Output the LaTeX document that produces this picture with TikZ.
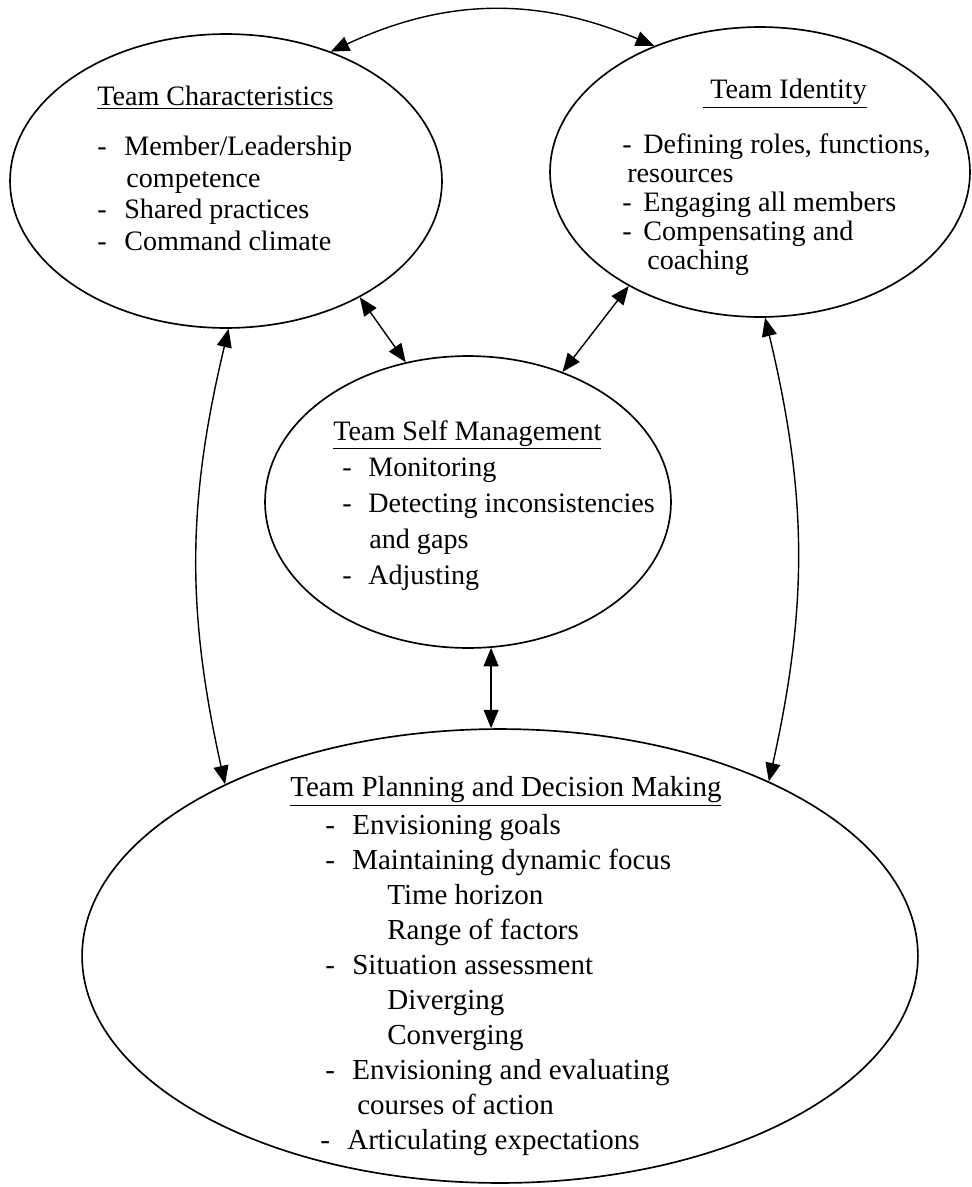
\documentclass[tikz,border=0pt]{standalone}
\usepackage{fontspec}
\setmainfont{Liberation Serif}
\usetikzlibrary{shapes.geometric,arrows.meta}
\tikzset{
BLOB/.style={draw=black,ellipse,line width=0.95pt,inner sep=0pt},
LINK/.style={draw=black,line width=0.8pt,>={Triangle[length=10.5pt,width=8.5pt]},<->},
LIST/.style={anchor=north west,inner sep=0pt,align=left},
}
\newcommand{\DSH}[1][0.54cm]{\makebox[#1][l]{-}}

\begin{document}
\begin{tikzpicture}[x=0.02cm,y=-0.02cm]
	\useasboundingbox (0,0) rectangle (971,1187);
	\node[BLOB,minimum width=8.64cm,minimum height=5.88cm] (tc) at (226,181) {};
	\node[BLOB,minimum width=8.4cm,minimum height=5.8cm] (ti) at (760,172) {};
	\node[BLOB,minimum width=8.12cm,minimum height=5.84cm] (tsm) at (468,502) {};
	\node[BLOB,minimum width=16.72cm,minimum height=9.08cm] (tpdm) at (500,956) {};
	%Texts
	\node[LIST,font=\fontsize{16pt}{0.63cm}\selectfont] (tctext) at (97,86)
		{\underline{Team Characteristics}\\[0.37cm]
		\DSH Member/Leadership\\
		\hspace*{0.58cm}competence\\
		\DSH Shared practices\\
		\DSH Command climate};
	\node[LIST,font=\fontsize{16pt}{0.58cm}\selectfont] (titext) at (622,79)
		{\hspace*{1.62cm}\underline{\hspace{0.14cm}Team Identity}\\[0.48cm]
		\DSH[0.42cm]Defining roles, functions,\\
		\hspace*{0.1cm}resources\\
		\DSH[0.42cm]Engaging all members\\
		\DSH[0.42cm]Compensating and\\
		\hspace*{0.5cm}coaching};
	\node[LIST,font=\fontsize{16pt}{0.72cm}\selectfont] (tsmtext) at (333,420)
		{\underline{Team Self Management}\\
		\hspace*{0.18cm}\DSH[0.52cm]Monitoring\\
		\hspace*{0.18cm}\DSH[0.52cm]Detecting inconsistencies\\
		\hspace*{0.72cm}and gaps\\
		\hspace*{0.18cm}\DSH[0.52cm]Adjusting};
	\node[LIST,font=\fontsize{16.5pt}{0.7cm}\selectfont] (tpdmtext) at (290,776)
		{\underline{Team Planning and Decision Making}\\[0.06cm]
		\hspace*{0.7cm}\DSH Envisioning goals\\
		\hspace*{0.7cm}\DSH Maintaining dynamic focus\\
		\hspace*{1.94cm}Time horizon\\
		\hspace*{1.94cm}Range of factors\\
		\hspace*{0.7cm}\DSH Situation assessment\\
		\hspace*{1.94cm}Diverging\\
		\hspace*{1.94cm}Converging\\
		\hspace*{0.7cm}\DSH Envisioning and evaluating\\
		\hspace*{1.34cm}courses of action\\
		\hspace*{0.6cm}\DSH Articulating expectations};
	%Links
	\path[LINK] (tc.51) to[bend left=24] (ti.130);
	\path[LINK] (tc.-41) -- (tsm.114);
	\path[LINK] (ti.221) -- (tsm.54);
	\path[LINK] (tsm.-81) -- (tsm.-81 |- tpdm.north);
	\path[LINK] (tc.-89) to[bend right=13] (tpdm.148);
	\path[LINK] (ti.-88) to[bend left=13] (tpdm.33);
\end{tikzpicture}
\end{document}
